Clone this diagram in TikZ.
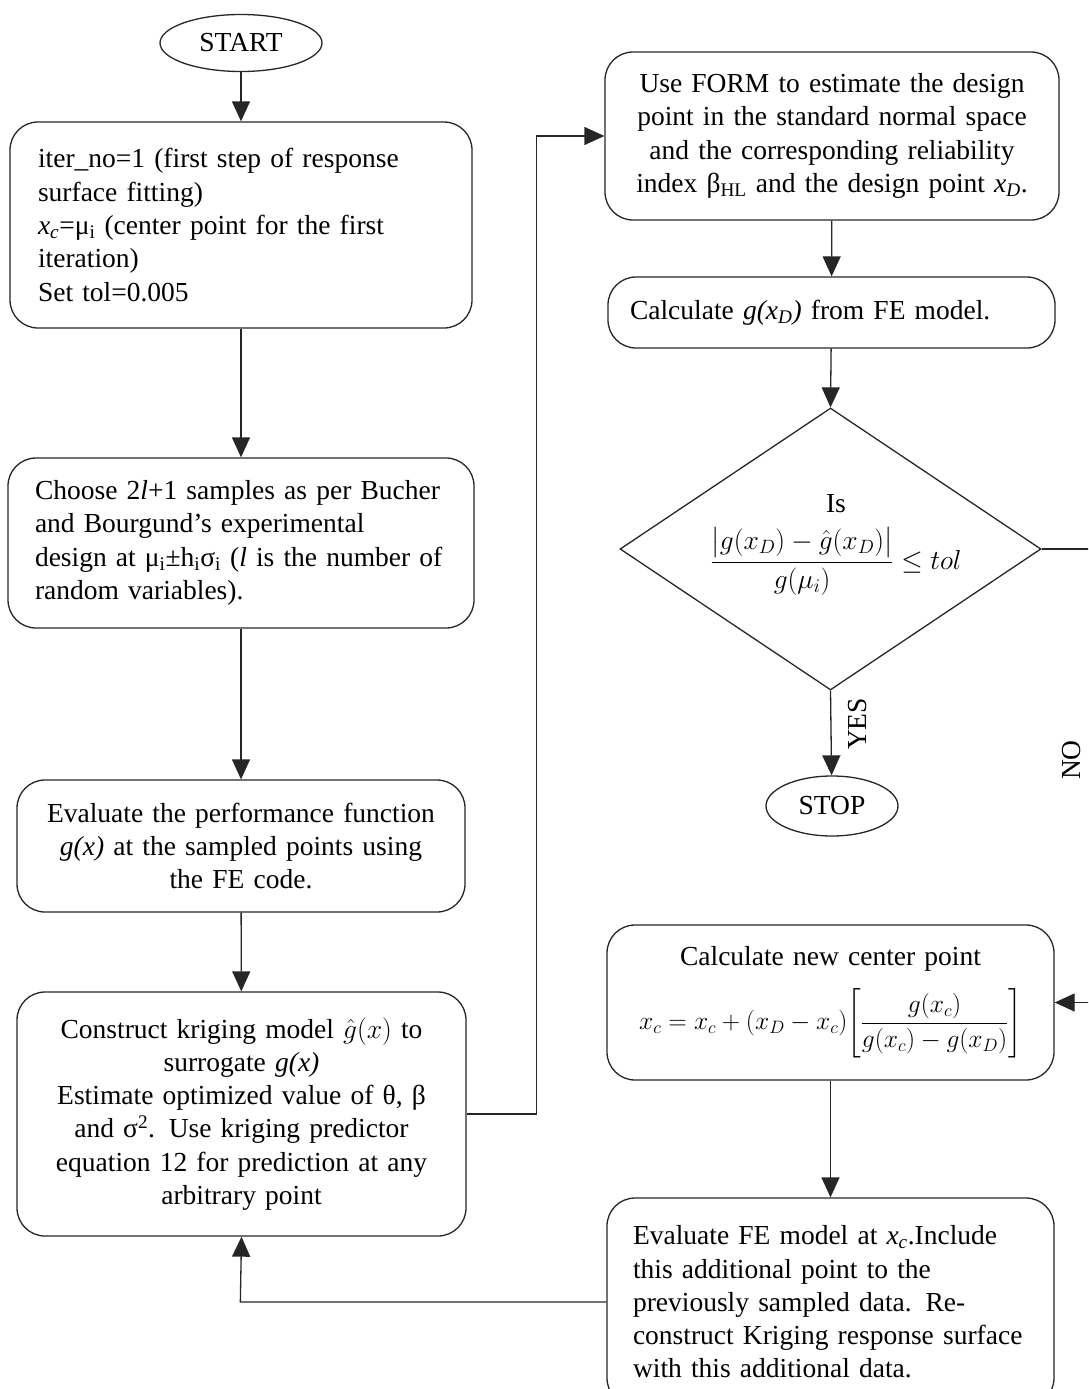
\documentclass[tikz,border=0pt]{standalone}
\usepackage{fix-cm}
\usepackage{amsmath}
\usepackage{fontspec}
\setmainfont{Liberation Serif}
\usetikzlibrary{shapes.geometric,arrows.meta}
\begin{document}
\begin{tikzpicture}[x=1pt,y=-1pt,
  font=\fontsize{27.5}{33.3}\selectfont,
  ln/.style={draw=black!85,line width=1.3pt},
  arr/.style={ln,-{Triangle[length=20pt,width=18pt]}},
  box/.style={draw=black!85,line width=1.3pt,rounded corners=28pt,inner sep=0pt},
  oval/.style={draw=black!85,line width=1.3pt,ellipse,inner sep=0pt}]
\useasboundingbox (0,0) rectangle (1088,1389);
\clip (0,0) rectangle (1088,1389);
% left column
\node[oval,minimum width=162pt,minimum height=57pt] (start) at (241,43) {START};
\node[box,minimum width=462pt,minimum height=206pt,text width=406pt,align=left] (b1) at (241,225)
 {iter\_no=1 (first step of response\\surface fitting)\\\textit{x\textsubscript{c}}=μ\textsubscript{i} (center point for the first\\iteration)\\Set tol=0.005};
\node[box,minimum width=466pt,minimum height=170pt,text width=412pt,align=left] (b2) at (241,543)
 {Choose 2\textit{l}+1 samples as per Bucher\\and Bourgund's experimental\\design at μ\textsubscript{i}±h\textsubscript{i}σ\textsubscript{i} (\textit{l} is the number of\\random variables).};
\node[box,minimum width=448pt,minimum height=132pt,text width=420pt,align=center] (b3) at (241,846)
 {Evaluate the performance function\\\textit{g(x)} at the sampled points using\\the FE code.};
\node[box,minimum width=449pt,minimum height=244pt,text width=430pt,align=center] (b4) at (241.5,1114)
 {Construct kriging model $\hat{g}(x)$ to\\surrogate \textit{g(x)}\\Estimate optimized value of θ, β\\and σ\textsuperscript{2}. Use kriging predictor\\equation 12 for prediction at any\\arbitrary point};
% right column
\node[box,minimum width=454pt,minimum height=168pt,text width=430pt,align=center] (b5) at (832,136)
 {Use FORM to estimate the design\\point in the standard normal space\\and the corresponding reliability\\index β\textsubscript{HL} and the design point \textit{x\textsubscript{D}}.};
\node[box,minimum width=447pt,minimum height=71pt,text width=403pt,align=left] (b6) at (831.5,312.5)
 {Calculate \textit{g(x\textsubscript{D})} from FE model.};
\node[diamond,draw=black!85,line width=1.3pt,minimum width=421pt,minimum height=282pt,inner sep=0pt] (d) at (830.5,549) {};
\node[align=center,inner sep=0pt] (dt) at (836,545)
 {Is\\[12pt]$\dfrac{\bigl|g(x_D)-\hat{g}(x_D)\bigr|}{g(\mu_i)}\le tol$};
\node[oval,minimum width=132pt,minimum height=60pt] (stop) at (832,806) {STOP};
\node[box,minimum width=447pt,minimum height=155pt,text width=430pt,align=center] (b7) at (830.5,1002.5)
 {Calculate new center point\\[16pt]\scalebox{0.93}{$x_c=x_c+\left(x_D-x_c\right)\!\left[\dfrac{g(x_c)}{g(x_c)-g(x_D)}\right]$}};
\node[box,minimum width=447pt,minimum height=208pt,text width=395pt,align=left] (b8) at (830.5,1302)
 {Evaluate FE model at \textit{x\textsubscript{c}}.Include\\this additional point to the\\previously sampled data. Re-\\construct Kriging response surface\\with this additional data.};
% labels
\node[rotate=90,inner sep=0pt] (yes) at (858,724) {YES};
\node[rotate=90,inner sep=0pt] (no) at (1072,760) {NO};
% connectors
\draw[arr] (start) -- (b1);
\draw[arr] (b1) -- (b2);
\draw[arr] (b2) -- (b3);
\draw[arr] (b3) -- (b4);
\draw[arr] (b4.east) -- ++(70,0) |- (b5.west);
\draw[arr] (b5) -- (b6);
\draw[arr] (b6) -- (d.north);
\draw[arr] (d.south) -- (stop);
\draw[arr] (d.east) -- ++(70,0) |- (b7.east);
\draw[arr] (b7) -- (b8);
\draw[arr] (b8.west) -- ++(-366,0) -- (b4.south);
\end{tikzpicture}
\end{document}
